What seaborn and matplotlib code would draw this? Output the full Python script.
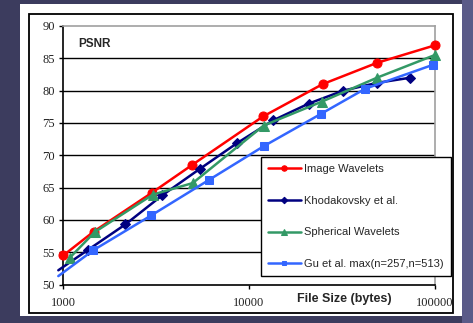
import numpy as np
import pandas as pd
import matplotlib
matplotlib.use('Agg')
import matplotlib.pyplot as plt
from matplotlib.patches import Rectangle
import seaborn as sns

sns.set_style('white')

#%% DATA
img_size = [1000, 1460, 3000, 4940, 11900, 24900, 48900, 100000]
img_psnr = [54.5, 58.2, 64.2, 68.5, 76.0, 81.0, 84.3, 87.0]

kho_size = [940, 1365, 2160, 3410, 5440, 8650, 13500, 21000, 32200, 48900, 74000]
kho_psnr = [52.2, 55.4, 59.3, 63.8, 67.9, 71.9, 75.4, 78.0, 80.0, 81.2, 82.0]

sph_size = [1080, 1475, 3030, 4980, 12000, 24700, 48900, 100000]
sph_psnr = [54.1, 58.1, 63.9, 65.7, 74.6, 78.3, 82.0, 85.5]

gu_size = [940, 1450, 2980, 6100, 12000, 24400, 42300, 98000]
gu_psnr = [51.3, 55.3, 60.7, 66.2, 71.4, 76.4, 80.3, 84.0]

series = [
    ('Image Wavelets', img_size, img_psnr, '#ff0000', 'o', 6.5, 0),
    ('Khodakovsky et al.', kho_size, kho_psnr, '#000080', 'D', 5.5, 1),
    ('Spherical Wavelets', sph_size, sph_psnr, '#339966', '^', 7, 0),
    ('Gu et al. max(n=257,n=513)', gu_size, gu_psnr, '#3366ff', 's', 5.5, 1),
]

#%% FIGURE
fig = plt.figure(figsize=(4.73, 3.23), dpi=100, facecolor='#3c3c5e')
fig.patches.append(Rectangle((462/473, 0), 11/473, 1, transform=fig.transFigure,
                             facecolor='#5a5a88', edgecolor='none', zorder=-3))
fig.patches.append(Rectangle((20/473, 7/323), 442/473, 312/323, transform=fig.transFigure,
                             facecolor='white', edgecolor='none', zorder=-2))
fig.patches.append(Rectangle((29/473, 10/323), 424/473, 299/323, transform=fig.transFigure,
                             facecolor='none', edgecolor='black', linewidth=1.3, zorder=-1))

ax = fig.add_axes([63.3/473, 1 - 284.5/323, (434.7 - 63.3)/473, (284.5 - 26)/323])
ax.set_facecolor('white')

for name, xs, ys, col, mk, ms, skip in series:
    sns.lineplot(x=xs, y=ys, ax=ax, color=col, marker=mk, markersize=ms,
                 markeredgecolor=col, linewidth=1.8, label=name, clip_on=False,
                 markevery=slice(skip, None), sort=False, zorder=3)

ax.set_xscale('log')
ax.set_xlim(1000, 100000)
ax.set_ylim(50, 90)
ax.set_xticks([1000, 10000, 100000])
ax.set_xticklabels(['1000', '10000', '100000'])
ax.xaxis.set_minor_locator(matplotlib.ticker.NullLocator())
ax.set_yticks(np.arange(50, 91, 5))
for v in np.arange(55, 90, 5):
    ax.axhline(v, color='black', linewidth=1.0, zorder=1)

for lab in ax.get_xticklabels() + ax.get_yticklabels():
    lab.set_family('Liberation Serif')
    lab.set_fontsize(9)
    lab.set_color('#222222')
ax.tick_params(axis='both', direction='out', length=3, width=1, color='black',
               bottom=True, left=True)
ax.tick_params(axis='x', pad=6)
ax.tick_params(axis='y', pad=3)

ax.spines['left'].set_color('black')
ax.spines['bottom'].set_color('black')
ax.spines['top'].set_color('#a0a0a0')
ax.spines['right'].set_color('#a0a0a0')
for s in ax.spines.values():
    s.set_linewidth(1.2)

ax.set_xlabel('')
ax.set_ylabel('')
ax.text(0.04, 0.93, 'PSNR', transform=ax.transAxes, fontsize=8.5, fontweight='bold',
        family='Liberation Sans', va='center', ha='left')
fig.text(344/473, 1 - 299/323, 'File Size (bytes)', fontsize=9, fontweight='bold',
         family='Liberation Sans', ha='center', va='center')

leg = ax.legend(loc='lower left', bbox_to_anchor=(261/473, 1 - 276/323),
                bbox_transform=fig.transFigure, frameon=True, fancybox=False,
                framealpha=1, edgecolor='black', handlelength=3.0, markerscale=0.6,
                labelspacing=1.97, borderpad=0.6, borderaxespad=0, handletextpad=0.3,
                prop={'family': 'Liberation Sans', 'size': 8})
leg.get_frame().set_linewidth(1.0)
leg.set_zorder(5)

fig.savefig('out.png', dpi=100, facecolor=fig.get_facecolor())
